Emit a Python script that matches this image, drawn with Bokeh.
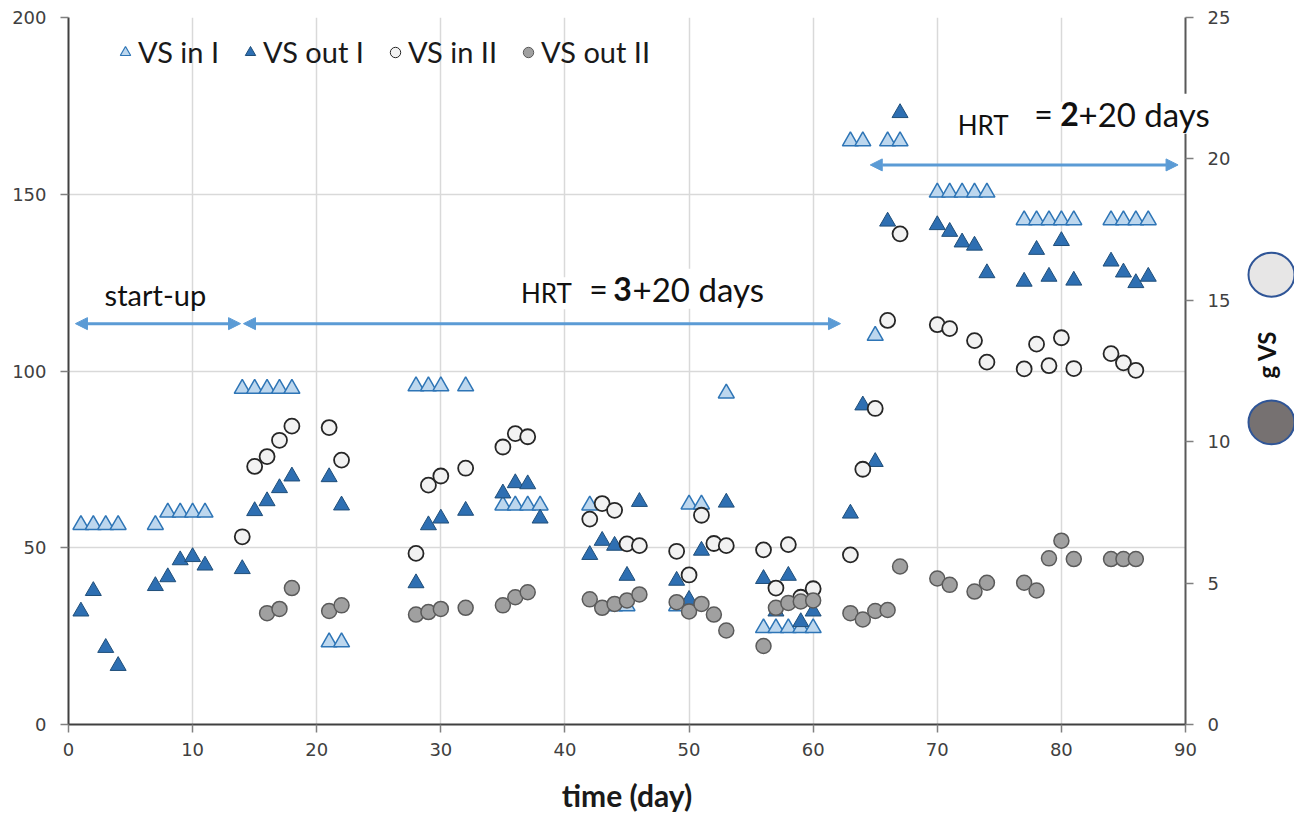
import math
from bokeh.plotting import figure
from bokeh.models import (Range1d, LinearAxis, FixedTicker, Legend, LegendItem,
                          Label, Arrow, NormalHead)
from bokeh.layouts import row
from bokeh.embed import file_html
from bokeh.resources import INLINE
from bokeh.core.properties import value

# ---------------- data ----------------
x_ticks = [0, 10, 20, 30, 40, 50, 60, 70, 80, 90]
left_ticks = [0, 50, 100, 150, 200]
right_ticks = [0, 5, 10, 15, 20, 25]

day_in_I = [1, 2, 3, 4, 7, 8, 9, 10, 11, 14, 15, 16, 17, 18, 21, 22, 28, 29, 30, 32,
            35, 36, 37, 38, 42, 44, 45, 49, 50, 51, 53, 56, 57, 58, 59, 60, 63, 64, 65,
            66, 67, 70, 71, 72, 73, 74, 77, 78, 79, 80, 81, 84, 85, 86, 87]
vs_in_I = [56.5, 56.5, 56.5, 56.5, 56.5, 60, 60, 60, 60, 95, 95, 95, 95, 95, 23.3, 23.3,
           95.7, 95.7, 95.7, 95.7, 62, 62, 62, 62, 62, 33.5, 33.5, 33.5, 62.3, 62.3, 93.7,
           27.3, 27.3, 27.3, 27.3, 27.3, 165, 165, 110, 165, 165, 150.5, 150.5, 150.5,
           150.5, 150.5, 142.7, 142.7, 142.7, 142.7, 142.7, 142.7, 142.7, 142.7, 142.7]

day_out_I = [1, 2, 3, 4, 7, 8, 9, 10, 11, 14, 15, 16, 17, 18, 21, 22, 28, 29, 30, 32,
             35, 36, 37, 38, 42, 43, 44, 45, 46, 49, 50, 51, 53, 56, 57, 58, 59, 60, 63,
             64, 65, 66, 67, 70, 71, 72, 73, 74, 77, 78, 79, 80, 81, 84, 85, 86, 87]
vs_out_I = [32, 37.8, 21.7, 16.6, 39.2, 41.7, 46.5, 47.4, 45, 44, 60.4, 63.2, 66.9, 70.2,
            70, 62, 40, 56.4, 58.3, 60.5, 65.4, 68.3, 68, 58.3, 48, 52, 50.6, 42.1, 63,
            40.7, 35.3, 49.2, 62.8, 41.2, 32, 42.1, 29, 32, 59.7, 90.3, 74.3, 142.3, 173,
            141.3, 139.4, 136.4, 135.5, 127.7, 125.3, 134.3, 126.7, 136.8, 125.6, 131,
            127.9, 124.9, 126.7]

day_in_II = [14, 15, 16, 17, 18, 21, 22, 28, 29, 30, 32, 35, 36, 37, 42, 43, 44, 45, 46,
             49, 50, 51, 52, 53, 56, 57, 58, 59, 60, 63, 64, 65, 66, 67, 70, 71, 73, 74,
             77, 78, 79, 80, 81, 84, 85, 86]
vs_in_II = [53.1, 73, 75.8, 80.4, 84.4, 84, 74.8, 48.4, 67.7, 70.3, 72.5, 78.5, 82.3, 81.4,
            58.1, 62.5, 60.6, 51.1, 50.6, 49, 42.3, 59.2, 51.2, 50.6, 49.4, 38.6, 50.9, 36,
            38.4, 48, 72.2, 89.4, 114.3, 138.8, 113.1, 112, 108.6, 102.5, 100.6, 107.6,
            101.5, 109.4, 100.7, 104.9, 102.3, 100.2]

day_out_II = [16, 17, 18, 21, 22, 28, 29, 30, 32, 35, 36, 37, 42, 43, 44, 45, 46, 49, 50,
              51, 52, 53, 56, 57, 58, 59, 60, 63, 64, 65, 66, 67, 70, 71, 73, 74, 77, 78,
              79, 80, 81, 84, 85, 86]
vs_out_II = [31.5, 32.7, 38.6, 32.1, 33.7, 31.1, 31.8, 32.7, 33, 33.7, 36, 37.4, 35.4, 33,
             34.1, 35.1, 36.8, 34.6, 32, 34.1, 31.1, 26.6, 22.2, 33, 34.4, 34.8, 35.1, 31.5,
             29.7, 32.1, 32.4, 44.7, 41.3, 39.5, 37.6, 40.1, 40.1, 37.9, 47, 52, 46.8,
             46.8, 46.8, 46.8]

series_names = ["VS in I", "VS out I", "VS in II", "VS out II"]

# ---------------- styles ----------------
C_LIGHT_TRI = "#bdd7ee"
C_LIGHT_TRI_LINE = "#2e75b6"
C_DARK_TRI = "#2e6fb2"
C_DARK_TRI_LINE = "#1f4e79"
C_WHITE = "#f2f2f2"
C_WHITE_LINE = "#262626"
C_GREY = "#a0a0a0"
C_GREY_LINE = "#5a5a5a"
ARROW_C = "#5b9bd5"
GRID_C = "#d9d9d9"
TICK_FONT = "DejaVu Sans"
TEXT_FONT = "Lato"
NAN = float("nan")

p = figure(width=1294, height=815, output_backend="svg", toolbar_location=None,
           x_range=Range1d(0, 90), y_range=Range1d(0, 200),
           min_border_left=68, min_border_right=109, min_border_top=17,
           min_border_bottom=89, outline_line_color=None)
p.extra_y_ranges = {"g": Range1d(0, 25)}

# grids
p.xgrid.ticker = FixedTicker(ticks=x_ticks)
p.ygrid.ticker = FixedTicker(ticks=left_ticks)
p.grid.grid_line_color = GRID_C
p.grid.grid_line_width = 1.5

# axes
p.xaxis.ticker = FixedTicker(ticks=x_ticks)
p.yaxis.ticker = FixedTicker(ticks=left_ticks)
raxis = LinearAxis(y_range_name="g", ticker=FixedTicker(ticks=right_ticks))
p.add_layout(raxis, "right")

for ax in [p.xaxis[0], p.yaxis[0], raxis]:
    ax.axis_line_color = "#404040"
    ax.axis_line_width = 2
    ax.major_tick_line_color = "#808080"
    ax.major_tick_line_width = 1.5
    ax.major_tick_out = 8
    ax.major_tick_in = 0
    ax.minor_tick_line_color = None
    ax.major_label_text_font = TICK_FONT
    ax.major_label_text_font_size = "18px"
    ax.major_label_text_color = "#404040"
p.yaxis[0].major_label_standoff = 14
raxis.major_label_standoff = 14
raxis.axis_line_color = "#595959"
p.xaxis[0].major_label_standoff = 10
p.xaxis[0].axis_label = "time (day)"
p.xaxis[0].axis_label_text_font = TEXT_FONT
p.xaxis[0].axis_label_text_font_style = "bold"
p.xaxis[0].axis_label_text_font_size = "30px"
p.xaxis[0].axis_label_text_color = "#1a1a1a"
p.xaxis[0].axis_label_standoff = 18

# ---------------- data marks ----------------
MS = 15
p.scatter(day_in_I, vs_in_I, marker="triangle", size=MS + 1, fill_color=C_LIGHT_TRI,
          line_color=C_LIGHT_TRI_LINE, line_width=1.5)
p.scatter(day_out_I, vs_out_I, marker="triangle", size=MS + 1, fill_color=C_DARK_TRI,
          line_color=C_DARK_TRI_LINE, line_width=1)
p.scatter(day_in_II, vs_in_II, marker="circle", size=MS, fill_color=C_WHITE,
          line_color=C_WHITE_LINE, line_width=1.8)
p.scatter(day_out_II, vs_out_II, marker="circle", size=MS, fill_color=C_GREY,
          line_color=C_GREY_LINE, line_width=1.5)

# legend (these renderers draw nothing in the frame, only their legend glyph)
lg = [
    p.scatter([NAN], [NAN], marker="triangle", size=12, fill_color=C_LIGHT_TRI,
              line_color=C_LIGHT_TRI_LINE, line_width=1.2),
    p.scatter([NAN], [NAN], marker="triangle", size=12, fill_color=C_DARK_TRI,
              line_color=C_DARK_TRI_LINE, line_width=1),
    p.scatter([NAN], [NAN], marker="circle", size=11, fill_color=C_WHITE,
              line_color=C_WHITE_LINE, line_width=1),
    p.scatter([NAN], [NAN], marker="circle", size=11, fill_color=C_GREY,
              line_color=C_GREY_LINE, line_width=1),
]
legend = Legend(items=[LegendItem(label=n, renderers=[r]) for n, r in zip(series_names, lg)],
                orientation="horizontal", location=(44, 655),
                border_line_color=None, background_fill_alpha=0,
                label_text_font=TEXT_FONT, label_text_font_size="29px",
                label_text_color="#1a1a1a",
                glyph_width=26, glyph_height=26, label_standoff=0, spacing=18,
                padding=0, margin=0)
p.add_layout(legend)

# ---------------- annotations ----------------
def make_label(x, y, text, size, bold=False, align="center", bg=True, angle=0.0):
    return Label(x=x, y=y, text=text, text_font=TEXT_FONT, text_font_size=size,
                 text_font_style="bold" if bold else "normal", text_color="#111111",
                 text_align=align, text_baseline="middle", angle=angle,
                 background_fill_color="white" if bg else None)

def add_arrow(x0, x1, y):
    p.add_layout(Arrow(x_start=x0, y_start=y, x_end=x1, y_end=y,
                       line_color=ARROW_C, line_width=3,
                       start=NormalHead(size=12, fill_color=ARROW_C, line_color=ARROW_C),
                       end=NormalHead(size=12, fill_color=ARROW_C, line_color=ARROW_C)))

add_arrow(0.56, 13.86, 113.4)
add_arrow(14.1, 62.2, 113.4)
add_arrow(64.6, 89.4, 158.3)

p.add_layout(make_label(7.0, 121.5, "start-up", "29px", bg=False))
p.add_layout(make_label(38.5, 122.0, "HRT", "26px"))
p.add_layout(make_label(42.7, 123.3, "=", "32px"))
p.add_layout(make_label(44.64, 123.3, "3", "32px", bold=True))
p.add_layout(make_label(45.45, 123.3, "+20 days", "33px", align="left"))
p.add_layout(make_label(73.7, 169.5, "HRT", "26px"))

# ---------------- overlay for the items that run past the right axis ----------------
# A transparent panel laid over the right part of the page (columns 1020..1294);
# its coordinates are (column - 1020, 815 - row), its frame rows match the main frame.
OV_W = 274
ov = figure(width=OV_W, height=815, output_backend="svg", toolbar_location=None,
            x_range=Range1d(0, OV_W), y_range=Range1d(89, 798),
            min_border=0, outline_line_color=None,
            background_fill_color=None, border_fill_color=None,
            margin=(0, 0, 0, -OV_W))
ov.axis.visible = False
ov.grid.visible = False
ov.add_layout(Label(x=23, y=701.5, text="=", text_font=TEXT_FONT, text_font_size="32px",
                    text_color="#111111", text_align="center", text_baseline="middle",
                    background_fill_color="white"))
ov.add_layout(Label(x=49, y=701.5, text="2", text_font=TEXT_FONT, text_font_size="32px",
                    text_font_style="bold", text_color="#111111", text_align="center",
                    text_baseline="middle", background_fill_color="white"))
ov.add_layout(Label(x=58, y=701.5, text="+20 days", text_font=TEXT_FONT,
                    text_font_size="33px", text_color="#111111", text_align="left",
                    text_baseline="middle", background_fill_color="white"))
ov.ellipse(x=[251], y=[540], width=46, height=44, fill_color="#e7e6e6",
           line_color="#2f5597", line_width=2)
ov.ellipse(x=[251], y=[392], width=46, height=44, fill_color="#767171",
           line_color="#2f5597", line_width=2)
ov.text(x=[246], y=[460], text=["g VS"], angle=math.pi / 2,
        text_font=value(TEXT_FONT), text_font_style="bold", text_font_size="24px",
        text_align="center", text_baseline="middle", text_color="#111111")

layout = row(p, ov, spacing=0)
open("out.html", "w").write(file_html(layout, INLINE))
